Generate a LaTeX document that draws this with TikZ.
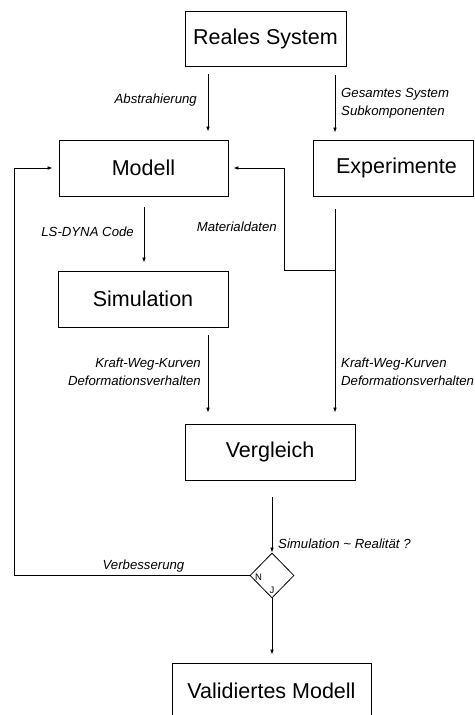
\documentclass[tikz,border=0pt]{standalone}
\usepackage{fontspec}
\setmainfont{Liberation Sans}
\usetikzlibrary{arrows.meta,shapes.geometric}
\tikzset{
  box/.style={draw, line width=0.8pt, inner sep=0pt, font=\fontsize{21.5}{25}\selectfont},
  lbl/.style={inner sep=0pt, font=\fontsize{13.2}{18}\selectfont\itshape},
  arr/.style={line width=0.7pt, -{Latex[length=5pt,width=3.5pt]}},
  ln/.style={line width=0.7pt},
}
\begin{document}
\begin{tikzpicture}[x=1pt,y=-1pt]
\useasboundingbox (0,0) rectangle (474,715);
\clip (0,0) rectangle (474,715);
\fill[white] (0,0) rectangle (474,715);
% boxes
\node[box, minimum width=161pt, minimum height=55pt] (real) at (265.5,38.5) {Reales System};
\node[box, minimum width=169pt, minimum height=56pt] (modell) at (143.5,168) {Modell};
\node[box, minimum width=160pt, minimum height=56pt] (exp) at (393.5,168) {\hspace*{6pt}Experimente};
\node[box, minimum width=170pt, minimum height=56pt] (sim) at (143,299) {Simulation};
\node[box, minimum width=170pt, minimum height=56pt] (verg) at (270,452) {Vergleich};
\node[draw, line width=0.8pt, diamond, inner sep=0pt, minimum width=44pt, minimum height=45pt] (dec) at (272,575.5) {};
\node[box, minimum width=199pt, minimum height=55pt] (valid) at (271.5,690.5) {Validiertes Modell};
% helper coordinates
\coordinate (j1) at (335,270);
\coordinate (j2) at (284,270);
\coordinate (j3) at (14,575.5);
% connectors
\draw[arr, shorten <=8pt, shorten >=8pt] (real.south -| 208,0) -- (modell.north -| 208,0);
\draw[arr, shorten <=9pt, shorten >=7pt] (real.south -| 335,0) -- (exp.north -| 335,0);
\draw[arr, shorten <=11pt, shorten >=8pt] (modell.south -| 144,0) -- (sim.north -| 144,0);
\draw[arr, shorten <=13pt, shorten >=11pt] (exp.south -| 335,0) -- (verg.north -| 335,0);
\draw[ln] (j1) -- (j2);
\draw[arr, shorten >=5pt] (j2) |- (modell.east);
\draw[arr, shorten <=8pt, shorten >=11pt] (sim.south -| 208,0) -- (verg.north -| 208,0);
\draw[arr, shorten <=17pt] (verg.south -| dec.north) -- (dec.north);
\draw[arr, shorten >=8pt] (dec.south) -- (valid.north -| dec.south);
\draw[ln] (dec.west) -- (j3);
\draw[arr, shorten >=6pt] (j3) |- (modell.west);
% labels
\node[lbl, anchor=east] (la) at (197,100) {Abstrahierung};
\node[lbl, anchor=west, align=left] (lb) at (341,103) {Gesamtes System\\Subkomponenten};
\node[lbl, anchor=east] (lc) at (134,232) {LS-DYNA Code};
\node[lbl, anchor=east] (ld) at (277,227) {Materialdaten};
\node[lbl, anchor=east, align=right] (le) at (201,372) {Kraft-Weg-Kurven\\Deformationsverhalten};
\node[lbl, anchor=west, align=left] (lf) at (341,372) {Kraft-Weg-Kurven\\Deformationsverhalten};
\node[lbl, anchor=west] (lg) at (278,544) {Simulation \textasciitilde{} Realität ?};
\node[lbl] (lh) at (143.5,566) {Verbesserung};
\node[inner sep=0pt, font=\fontsize{9.5}{11}\selectfont] (ln) at (258.5,577) {N};
\node[inner sep=0pt, font=\fontsize{9.5}{11}\selectfont] (lj) at (272,590.5) {J};
\end{tikzpicture}
\end{document}
